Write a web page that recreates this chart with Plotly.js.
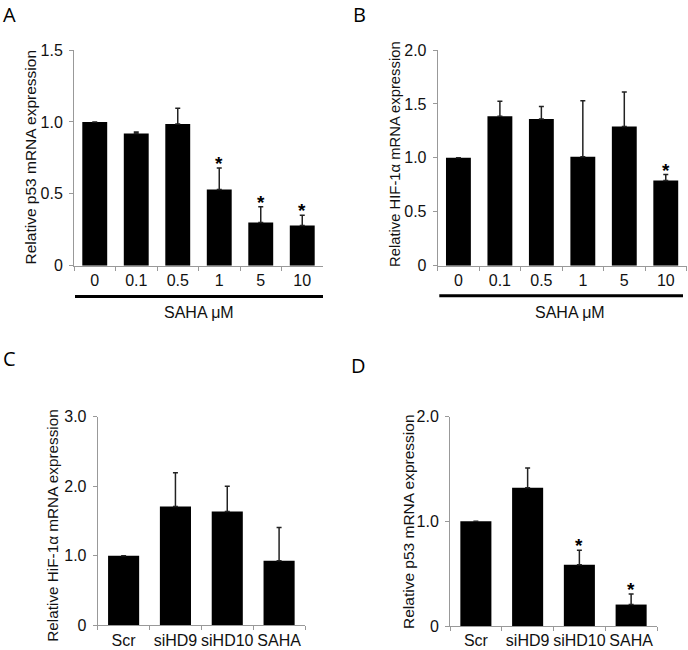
<!DOCTYPE html>
<html><head><meta charset="utf-8">
<script src="https://cdn.plot.ly/plotly-3.0.1.min.js"></script>
<style>html,body{margin:0;padding:0;background:#fff}</style>
</head><body><div id="chart" style="width:688px;height:650px"></div>
<script>
// ---- data ----
const doseLabels = ['0', '0.1', '0.5', '1', '5', '10'];
const p53DoseMean = [1.00, 0.92, 0.985, 0.53, 0.30, 0.28];
const p53DoseErr  = [0, 0.01, 0.11, 0.15, 0.11, 0.07];
const p53DoseSig  = [false, false, false, true, true, true];

const hifDoseMean = [1.00, 1.385, 1.36, 1.01, 1.29, 0.79];
const hifDoseErr  = [0, 0.14, 0.115, 0.52, 0.32, 0.055];
const hifDoseSig  = [false, false, false, false, false, true];

const siLabels  = ['Scr', 'siHD9', 'siHD10', 'SAHA'];
const hifSiMean = [1.00, 1.71, 1.635, 0.93];
const hifSiErr  = [0, 0.485, 0.365, 0.475];
const hifSiSig  = [false, false, false, false];

const p53SiMean = [1.00, 1.32, 0.585, 0.205];
const p53SiErr  = [0, 0.19, 0.14, 0.10];
const p53SiSig  = [false, false, true, true];

const yTicksA = [0, 0.5, 1, 1.5],      yTextA = ['0', '0.5', '1.0', '1.5'];
const yTicksB = [0, 0.5, 1, 1.5, 2],   yTextB = ['0', '0.5', '1.0', '1.5', '2.0'];
const yTicksC = [0, 1, 2, 3],          yTextC = ['0', '1.0', '2.0', '3.0'];
const yTicksD = [0, 1, 2],             yTextD = ['0', '1.0', '2.0'];

// ---- layout helpers ----
const W = 688, H = 650;
const px = v => v / W, py = v => 1 - v / H;
const FONT = '"Liberation Sans", Arial, sans-serif';
const AXC = '#999999';

const panels = [
  {id: '', labels: doseLabels, mean: p53DoseMean, err: p53DoseErr, sig: p53DoseSig,
   xd: [74, 323], yd: [50, 265.7], range: [0, 1.5], tv: yTicksA, tt: yTextA,
   title: 'Relative p53 mRNA expression', tx: 30, ty: 157.5, tsize: 15.5,
   letter: 'A', lx: 9, ly: 0},
  {id: '2', labels: doseLabels, mean: hifDoseMean, err: hifDoseErr, sig: hifDoseSig,
   xd: [437.7, 686.5], yd: [50, 265.7], range: [0, 2], tv: yTicksB, tt: yTextB,
   title: 'Relative HIF-1α mRNA expression', tx: 395, ty: 154, tsize: 14.8,
   letter: 'B', lx: 359, ly: 0},
  {id: '3', labels: siLabels, mean: hifSiMean, err: hifSiErr, sig: hifSiSig,
   xd: [97.7, 305], yd: [416.7, 625.3], range: [0, 3], tv: yTicksC, tt: yTextC,
   title: 'Relative HiF-1α mRNA expression', tx: 51.7, ty: 526, tsize: 15.3,
   letter: 'C', lx: 9, ly: 344},
  {id: '4', labels: siLabels, mean: p53SiMean, err: p53SiErr, sig: p53SiSig,
   xd: [450, 657], yd: [416.7, 626], range: [0, 2], tv: yTicksD, tt: yTextD,
   title: 'Relative p53 mRNA expression', tx: 408, ty: 522, tsize: 15.5,
   letter: 'D', lx: 358, ly: 351}
];

const traces = [];
const layout = {
  width: W, height: H, autosize: false,
  margin: {l: 0, r: 0, t: 0, b: 0},
  paper_bgcolor: '#fff', plot_bgcolor: 'rgba(0,0,0,0)',
  showlegend: false,
  font: {family: FONT, color: '#111', size: 16},
  annotations: [], shapes: []
};

panels.forEach(p => {
  const xa = 'x' + p.id, ya = 'y' + p.id;
  traces.push({
    type: 'bar', x: p.labels, y: p.mean, xaxis: xa, yaxis: ya,
    width: 0.6, marker: {color: '#000', line: {width: 0}},
    error_y: {type: 'data', symmetric: false, array: p.err,
              arrayminus: p.err.map(() => 0), color: '#222', thickness: 1.5, width: 2.5},
    hoverinfo: 'skip'
  });
  layout['xaxis' + p.id] = {
    domain: [px(p.xd[0]), px(p.xd[1])], anchor: ya, type: 'category',
    range: [-0.5, p.labels.length - 0.5], showline: true, linecolor: AXC, linewidth: 1,
    ticks: 'outside', ticklen: 4, tickcolor: AXC, tickwidth: 1, tickson: 'boundaries',
    tickangle: 0, automargin: false,
    showgrid: false, zeroline: false, tickfont: {family: FONT, size: 16, color: '#111'},
    fixedrange: true
  };
  layout['yaxis' + p.id] = {
    domain: [py(p.yd[1]), py(p.yd[0])], anchor: xa, range: p.range,
    tickvals: p.tv, ticktext: p.tt, showline: true, linecolor: AXC, linewidth: 1,
    ticks: 'outside', ticklen: 4, tickcolor: AXC, tickwidth: 1, automargin: false,
    ticklabelstandoff: 3,
    showgrid: false, zeroline: false, tickfont: {family: FONT, size: 16, color: '#111'},
    fixedrange: true
  };
  layout.annotations.push({
    xref: 'paper', yref: 'paper', x: px(p.tx), y: py(p.ty), xanchor: 'center', yanchor: 'middle',
    text: p.title, textangle: -90, showarrow: false,
    font: {family: FONT, size: p.tsize, color: '#111'}
  });
  layout.annotations.push({
    xref: 'paper', yref: 'paper', x: px(p.lx), y: py(p.ly), xanchor: 'center', yanchor: 'top',
    borderpad: 0, text: p.letter, showarrow: false,
    font: {family: '"Open Sans", sans-serif', size: 20, color: '#000'}
  });
  p.sig.forEach((s, i) => {
    if (!s) return;
    layout.annotations.push({
      xref: xa, yref: ya, x: i, y: p.mean[i] + p.err[i],
      xanchor: 'center', yanchor: 'bottom', yshift: -8, text: '*', showarrow: false,
      font: {family: FONT, size: 19, color: '#000', weight: 'bold'}
    });
  });
});

// SAHA µM group lines and labels
[[75, 323, 296.5, 199], [439.3, 683, 295.7, 570]].forEach(g => {
  layout.shapes.push({type: 'line', xref: 'paper', yref: 'paper',
    x0: px(g[0]), x1: px(g[1]), y0: py(g[2]), y1: py(g[2]), line: {color: '#000', width: 3}});
  layout.annotations.push({xref: 'paper', yref: 'paper', x: px(g[3]), y: py(312.3),
    xanchor: 'center', yanchor: 'middle', text: 'SAHA μM', showarrow: false,
    font: {family: FONT, size: 16, color: '#111'}});
});

Plotly.newPlot('chart', traces, layout, {displayModeBar: false, staticPlot: true});
</script>
</body></html>
